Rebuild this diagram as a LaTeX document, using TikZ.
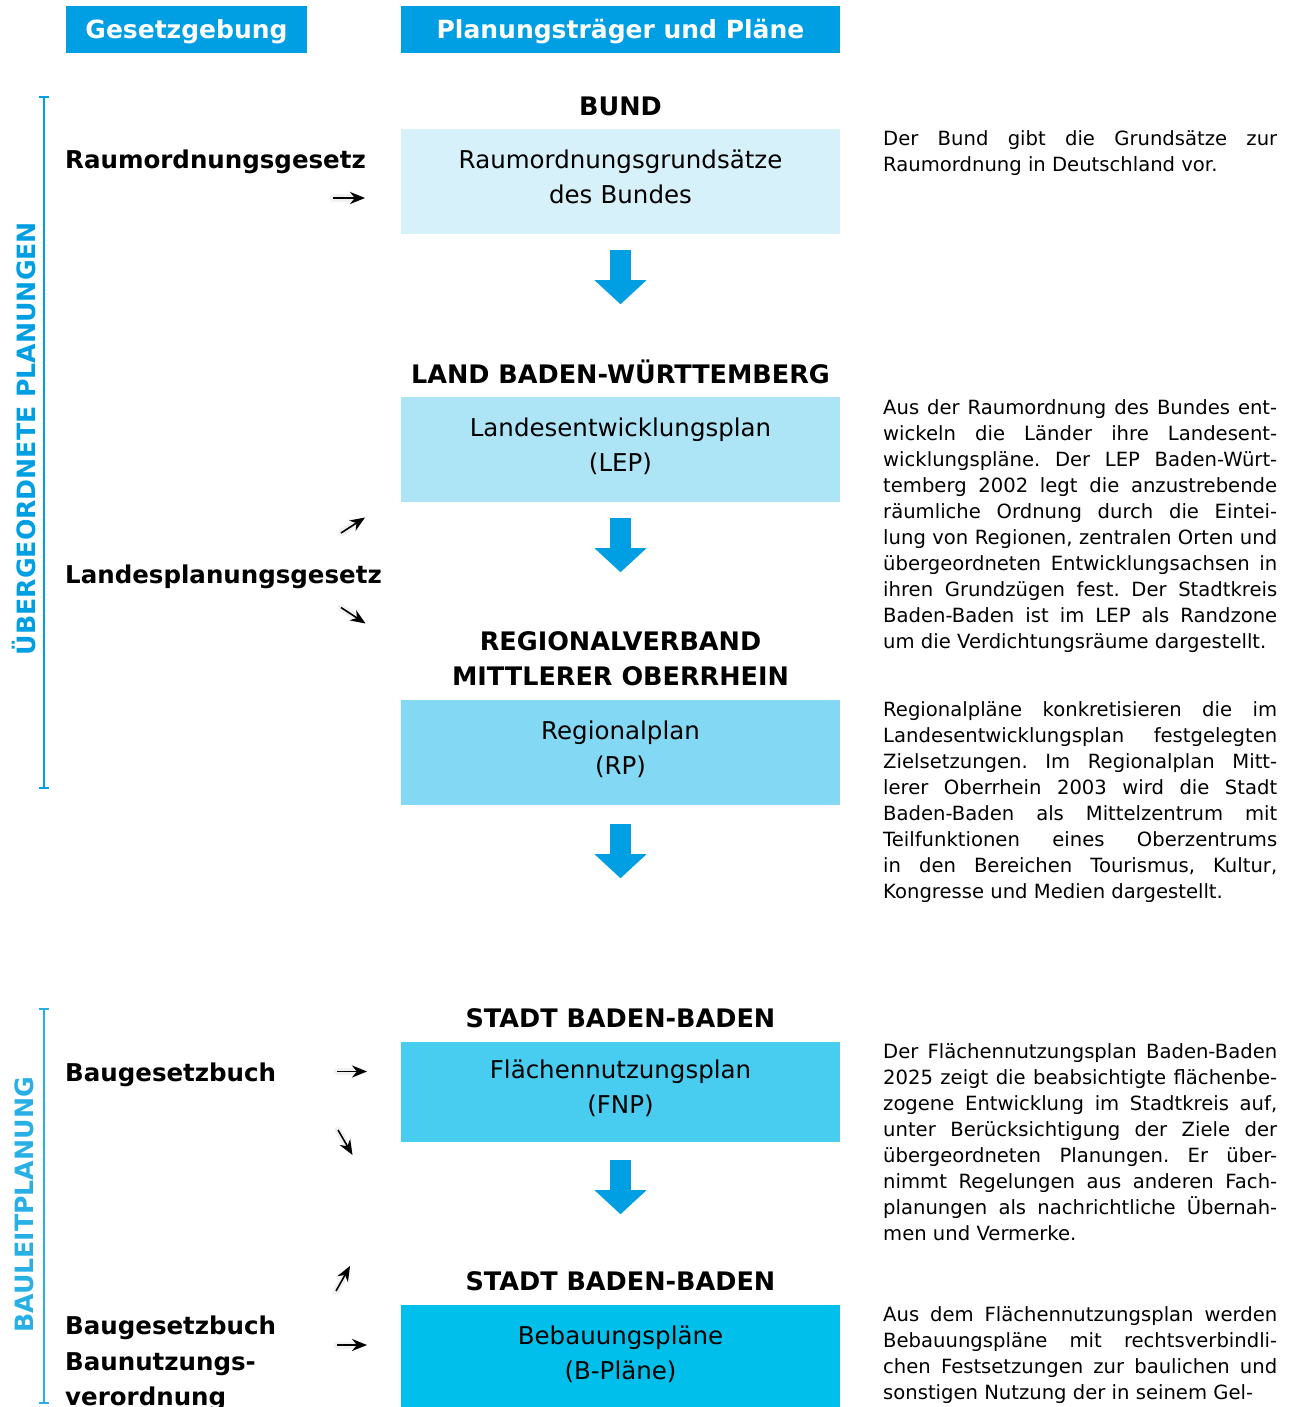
\documentclass[tikz,border=0pt]{standalone}
\usepackage{fontspec}
\setmainfont{DejaVu Sans}
\usetikzlibrary{positioning, arrows.meta}
\definecolor{headblue}{RGB}{0,159,227}
\definecolor{baublue}{RGB}{40,176,230}
\definecolor{planA}{RGB}{214,241,250}
\definecolor{planB}{RGB}{173,229,247}
\definecolor{planC}{RGB}{131,216,243}
\definecolor{planD}{RGB}{72,205,240}
\definecolor{planE}{RGB}{0,192,235}
\tikzset{
  header/.style={fill=headblue, text=white, font=\fontsize{25}{30}\selectfont\bfseries, minimum height=47pt, inner sep=0pt,
    text height=18pt, text depth=0pt},
  planbox/.style={minimum width=439pt, minimum height=105pt, text width=439pt, align=center, inner sep=0pt,
    text height=18.5pt, text depth=45pt, font=\fontsize{24.5}{35}\selectfont},
  level/.style={font=\fontsize{25.5}{35}\selectfont\bfseries, align=center, inner sep=0pt},
  law/.style={font=\fontsize{24.5}{35.5}\selectfont\bfseries, text width=330pt, align=left, anchor=base west, inner sep=0pt},
  para/.style={font=\fontsize{19.6}{26}\selectfont\frenchspacing, text width=394pt, align=justify, anchor=base west, inner sep=0pt},
  bigarrow/.style={draw=headblue, line width=21pt, -{Triangle[width=52pt, length=24pt, line width=0pt]}},
  smallarrow/.style={line width=1.6pt, -{Stealth[length=15pt, width=12pt]}},
  arrowshadow/.style={black!70, opacity=0.08, line width=7pt, line cap=round, shift={(4,5)}, -{Stealth[length=16pt, width=15pt]}},
  bracket/.style={line width=1.8pt, {Bar[width=10pt]}-{Bar[width=10pt]}},
  sidetitle/.style={rotate=90, font=\fontsize{25.2}{30}\selectfont\bfseries, inner sep=0pt}
}
\begin{document}
\begin{tikzpicture}[x=1pt, y=-1pt]
  \useasboundingbox (0,0) rectangle (1295,1407);

  % headers
  \node[header, minimum width=241pt] (hgesetz) at (186.5,29.5) {Gesetzgebung};
  \node[header, minimum width=439pt] (hplan) at (620.5,29.5) {Planungsträger und Pläne};

  % plans
  \node[planbox, fill=planA] (bund) at (620.5,181.5) {Raumordnungsgrundsätze\\des Bundes};
  \node[planbox, fill=planB] (lep) at (620.5,449.5) {Landesentwicklungsplan\\(LEP)};
  \node[planbox, fill=planC] (rp) at (620.5,752.5) {Regionalplan\\(RP)};
  \node[planbox, fill=planD, minimum height=100pt] (fnp) at (620.5,1092) {Flächennutzungsplan\\(FNP)};
  \node[planbox, fill=planE] (bplan) at (620.5,1357.5) {Bebauungspläne\\(B-Pläne)};

  \node[level, above=13pt of bund] (tbund) {BUND};
  \node[level, above=13pt of lep] (tland) {LAND BADEN-WÜRTTEMBERG};
  \node[level, above=14pt of rp] (tregion) {REGIONALVERBAND\\MITTLERER OBERRHEIN};
  \node[level, above=14pt of fnp] (tstadt) {STADT BADEN-BADEN};
  \node[level, above=13.5pt of bplan] (tstadtb) {STADT BADEN-BADEN};

  \coordinate[below=16pt of bund] (a1);
  \coordinate[below=54pt of a1] (a1end);
  \coordinate[below=16pt of lep] (a2);
  \coordinate[below=54pt of a2] (a2end);
  \coordinate[below=19pt of rp] (a3);
  \coordinate[below=54pt of a3] (a3end);
  \coordinate[below=18pt of fnp] (a4);
  \coordinate[below=54pt of a4] (a4end);
  \draw[bigarrow] (a1) -- (a1end);
  \draw[bigarrow] (a2) -- (a2end);
  \draw[bigarrow] (a3) -- (a3end);
  \draw[bigarrow] (a4) -- (a4end);

  % side brackets
  \coordinate (br1top) at (44,96);
  \coordinate (br1bot) at (44,789);
  \coordinate (br2top) at (44,1008);
  \coordinate (br2bot) at (44,1404);
  \draw[bracket, headblue] (br1top) -- (br1bot);
  \draw[bracket, baublue] (br2top) -- (br2bot);
  \node[sidetitle, text=headblue] (ueber) at (24,438.5) {ÜBERGEORDNETE PLANUNGEN};
  \node[sidetitle, text=baublue] (bauleit) at (24,1205) {BAULEITPLANUNG};

  % laws
  \node[law] (rog) at (65,168) {Raumordnungsgesetz};
  \node[law] (lplg) at (65,583) {Landesplanungsgesetz};
  \node[law] (baugb) at (65,1081.5) {Baugesetzbuch};
  \node[law] (baunvo) at (65,1334.5) {Baugesetzbuch\\Baunutzungs-\\verordnung};

  \coordinate (s1) at (333,198);   \coordinate (e1) at (365,198);
  \coordinate (s2) at (341,533);   \coordinate (e2) at (365,517.5);
  \coordinate (s3) at (341,607.5); \coordinate (e3) at (365.5,623.5);
  \coordinate (s4) at (337,1071.5); \coordinate (e4) at (367,1071.5);
  \coordinate (s5) at (338,1130);  \coordinate (e5) at (352.5,1155);
  \coordinate (s6) at (336,1291);  \coordinate (e6) at (350,1266);
  \coordinate (s7) at (337,1345);  \coordinate (e7) at (367,1345);
  \draw[arrowshadow] (s1) -- (e1);
  \draw[arrowshadow] (s2) -- (e2);
  \draw[arrowshadow] (s3) -- (e3);
  \draw[arrowshadow] (s4) -- (e4);
  \draw[arrowshadow] (s5) -- (e5);
  \draw[arrowshadow] (s6) -- (e6);
  \draw[arrowshadow] (s7) -- (e7);
  \draw[smallarrow] (s1) -- (e1);
  \draw[smallarrow] (s2) -- (e2);
  \draw[smallarrow] (s3) -- (e3);
  \draw[smallarrow] (s4) -- (e4);
  \draw[smallarrow] (s5) -- (e5);
  \draw[smallarrow] (s6) -- (e6);
  \draw[smallarrow] (s7) -- (e7);

  % explanations
  \node[para] (txbund) at (883,146) {Der Bund gibt die Grundsätze zur\linebreak Raumordnung in Deutschland vor.};
  \node[para] (txland) at (883,414) {Aus der Raumordnung des Bundes ent-\linebreak wickeln die Länder ihre Landesent-\linebreak wicklungspläne. Der LEP Baden-Würt-\linebreak temberg 2002 legt die anzustrebende\linebreak räumliche Ordnung durch die Eintei-\linebreak lung von Regionen, zentralen Orten und\linebreak übergeordneten Entwicklungsachsen in\linebreak ihren Grundzügen fest. Der Stadtkreis\linebreak Baden-Baden ist im LEP als Randzone\linebreak um die Verdichtungsräume dargestellt.};
  \node[para] (txregion) at (883,716) {Regionalpläne konkretisieren die im\linebreak Landesentwicklungsplan festgelegten\linebreak Zielsetzungen. Im Regionalplan Mitt-\linebreak lerer Oberrhein 2003 wird die Stadt\linebreak Baden-Baden als Mittelzentrum mit\linebreak Teilfunktionen eines Oberzentrums\linebreak in den Bereichen Tourismus, Kultur,\linebreak Kongresse und Medien dargestellt.};
  \node[para] (txfnp) at (883,1058) {Der Flächennutzungsplan Baden-Baden\linebreak 2025 zeigt die beabsichtigte flächenbe-\linebreak zogene Entwicklung im Stadtkreis auf,\linebreak unter Berücksichtigung der Ziele der\linebreak übergeordneten Planungen. Er über-\linebreak nimmt Regelungen aus anderen Fach-\linebreak planungen als nachrichtliche Übernah-\linebreak men und Vermerke.};
  \node[para] (txbplan) at (883,1321) {\parfillskip=0pt\relax Aus dem Flächennutzungsplan werden\linebreak Bebauungspläne mit rechtsverbindli-\linebreak chen Festsetzungen zur baulichen und\linebreak sonstigen Nutzung der in seinem Gel-};
\end{tikzpicture}
\end{document}
